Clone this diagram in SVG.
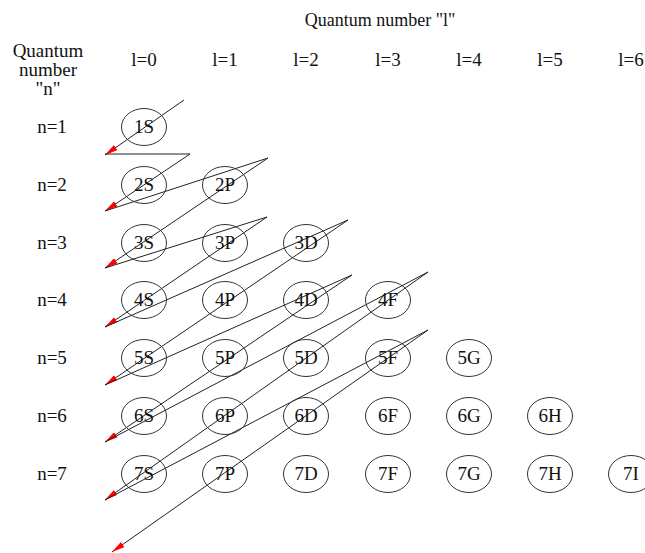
<svg xmlns="http://www.w3.org/2000/svg" width="645" height="553" viewBox="0 0 645 553">
<style>
text{font-family:"Liberation Serif","Times New Roman",serif;font-size:19px;fill:#111;text-anchor:middle}
.o ellipse{fill:none;stroke:#333;stroke-width:1}
.c line{stroke:#222;stroke-width:1}
</style>
<defs>
<marker id="ah" viewBox="0 0 13 6" refX="13" refY="3" markerWidth="13" markerHeight="6" orient="auto" markerUnits="userSpaceOnUse">
<path d="M0,0 L13,3 L0,6 z" fill="#f00"/>
</marker>
</defs>
<rect width="645" height="553" fill="#fff"/>
<g id="headers">
<text x="380" y="26" style="font-size:18px">Quantum number "l"</text>
<text x="48" y="57">Quantum</text>
<text x="48" y="76">number</text>
<text x="48" y="95">"n"</text>
<text x="144" y="66">l=0</text>
<text x="225" y="66">l=1</text>
<text x="306" y="66">l=2</text>
<text x="388" y="66">l=3</text>
<text x="469" y="66">l=4</text>
<text x="550" y="66">l=5</text>
<text x="631" y="66">l=6</text>
<text x="52" y="133">n=1</text>
<text x="52" y="191">n=2</text>
<text x="52" y="249">n=3</text>
<text x="52" y="306">n=4</text>
<text x="52" y="364">n=5</text>
<text x="52" y="422">n=6</text>
<text x="52" y="480">n=7</text>
</g>
<g class="c" id="connectors">
<line x1="184" y1="100" x2="105" y2="155" marker-end="url(#ah)"/>
<line x1="105" y1="154" x2="190" y2="154"/>
<line x1="190" y1="154" x2="105" y2="211" marker-end="url(#ah)"/>
<line x1="105" y1="211" x2="268" y2="158"/>
<line x1="268" y1="158" x2="105" y2="268" marker-end="url(#ah)"/>
<line x1="105" y1="268" x2="267" y2="217"/>
<line x1="267" y1="217" x2="105" y2="327" marker-end="url(#ah)"/>
<line x1="105" y1="327" x2="348" y2="220"/>
<line x1="348" y1="220" x2="105" y2="385" marker-end="url(#ah)"/>
<line x1="105" y1="385" x2="352" y2="275"/>
<line x1="352" y1="275" x2="105" y2="442" marker-end="url(#ah)"/>
<line x1="105" y1="442" x2="428" y2="272"/>
<line x1="428" y1="272" x2="105" y2="500" marker-end="url(#ah)"/>
<line x1="105" y1="500" x2="428" y2="330"/>
<line x1="428" y1="330" x2="112" y2="552" marker-end="url(#ah)"/>
</g>
<g class="o">
<g id="n1s"><ellipse cx="144" cy="127" rx="22.5" ry="18.5"/><text x="144" y="133">1S</text></g>
<g id="n2s"><ellipse cx="144" cy="185" rx="22.5" ry="18.5"/><text x="144" y="191">2S</text></g>
<g id="n2p"><ellipse cx="225" cy="185" rx="22.5" ry="18.5"/><text x="225" y="191">2P</text></g>
<g id="n3s"><ellipse cx="144" cy="243" rx="22.5" ry="18.5"/><text x="144" y="249">3S</text></g>
<g id="n3p"><ellipse cx="225" cy="243" rx="22.5" ry="18.5"/><text x="225" y="249">3P</text></g>
<g id="n3d"><ellipse cx="306" cy="243" rx="22.5" ry="18.5"/><text x="306" y="249">3D</text></g>
<g id="n4s"><ellipse cx="144" cy="300" rx="22.5" ry="18.5"/><text x="144" y="306">4S</text></g>
<g id="n4p"><ellipse cx="225" cy="300" rx="22.5" ry="18.5"/><text x="225" y="306">4P</text></g>
<g id="n4d"><ellipse cx="306" cy="300" rx="22.5" ry="18.5"/><text x="306" y="306">4D</text></g>
<g id="n4f"><ellipse cx="388" cy="300" rx="22.5" ry="18.5"/><text x="388" y="306">4F</text></g>
<g id="n5s"><ellipse cx="144" cy="358" rx="22.5" ry="18.5"/><text x="144" y="364">5S</text></g>
<g id="n5p"><ellipse cx="225" cy="358" rx="22.5" ry="18.5"/><text x="225" y="364">5P</text></g>
<g id="n5d"><ellipse cx="306" cy="358" rx="22.5" ry="18.5"/><text x="306" y="364">5D</text></g>
<g id="n5f"><ellipse cx="388" cy="358" rx="22.5" ry="18.5"/><text x="388" y="364">5F</text></g>
<g id="n5g"><ellipse cx="469" cy="358" rx="22.5" ry="18.5"/><text x="469" y="364">5G</text></g>
<g id="n6s"><ellipse cx="144" cy="416" rx="22.5" ry="18.5"/><text x="144" y="422">6S</text></g>
<g id="n6p"><ellipse cx="225" cy="416" rx="22.5" ry="18.5"/><text x="225" y="422">6P</text></g>
<g id="n6d"><ellipse cx="306" cy="416" rx="22.5" ry="18.5"/><text x="306" y="422">6D</text></g>
<g id="n6f"><ellipse cx="388" cy="416" rx="22.5" ry="18.5"/><text x="388" y="422">6F</text></g>
<g id="n6g"><ellipse cx="469" cy="416" rx="22.5" ry="18.5"/><text x="469" y="422">6G</text></g>
<g id="n6h"><ellipse cx="550" cy="416" rx="22.5" ry="18.5"/><text x="550" y="422">6H</text></g>
<g id="n7s"><ellipse cx="144" cy="474" rx="22.5" ry="18.5"/><text x="144" y="480">7S</text></g>
<g id="n7p"><ellipse cx="225" cy="474" rx="22.5" ry="18.5"/><text x="225" y="480">7P</text></g>
<g id="n7d"><ellipse cx="306" cy="474" rx="22.5" ry="18.5"/><text x="306" y="480">7D</text></g>
<g id="n7f"><ellipse cx="388" cy="474" rx="22.5" ry="18.5"/><text x="388" y="480">7F</text></g>
<g id="n7g"><ellipse cx="469" cy="474" rx="22.5" ry="18.5"/><text x="469" y="480">7G</text></g>
<g id="n7h"><ellipse cx="550" cy="474" rx="22.5" ry="18.5"/><text x="550" y="480">7H</text></g>
<g id="n7i"><ellipse cx="631" cy="474" rx="22.5" ry="18.5"/><text x="631" y="480">7I</text></g>
</g>
</svg>
